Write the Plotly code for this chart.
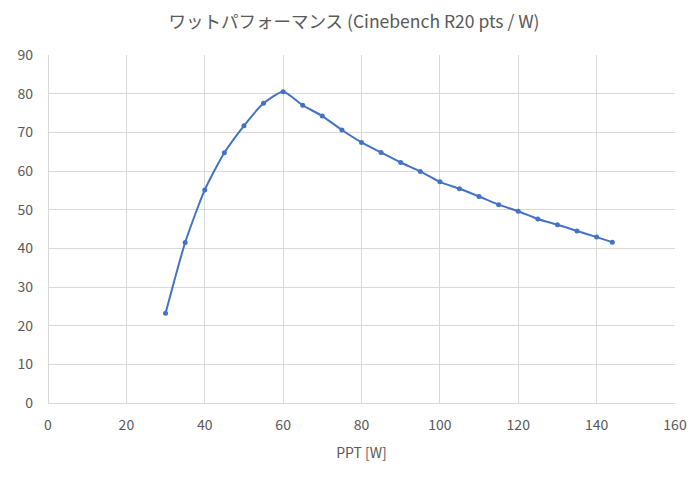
import plotly.graph_objects as go

ppt_w = [30, 35, 40, 45, 50, 55, 60, 65, 70, 75, 80, 85, 90, 95, 100, 105, 110, 115, 120, 125, 130, 135, 140, 144]
pts_per_w = [23.2, 41.5, 55.1, 64.7, 71.7, 77.5, 80.5, 77.0, 74.2, 70.6, 67.4, 64.8, 62.2, 59.9, 57.2, 55.4, 53.4, 51.3, 49.6, 47.6, 46.1, 44.5, 42.9, 41.6]

title_text = "ワットパフォーマンス (Cinebench R20 pts / W)"
x_title = "PPT [W]"
x_ticks = [0, 20, 40, 60, 80, 100, 120, 140, 160]
y_ticks = [0, 10, 20, 30, 40, 50, 60, 70, 80, 90]

# page body has an 8px margin, so the figure is sized to fill the rest of the window
W, H = 692, 469
ml, mr, mt, mb = 40, 25, 47, 74

font = "Noto Sans CJK JP, Noto Sans, sans-serif"
grid = "#d9d9d9"
txt = "#595959"

fig = go.Figure()
fig.add_trace(go.Scatter(
    x=ppt_w, y=pts_per_w, mode="lines+markers",
    line=dict(color="#4472C4", width=2, shape="spline", smoothing=0.6),
    marker=dict(color="#4472C4", size=5),
    showlegend=False, hoverinfo="x+y",
))

fig.update_layout(
    width=W, height=H,
    margin=dict(l=ml, r=mr, t=mt, b=mb, autoexpand=False),
    paper_bgcolor="white", plot_bgcolor="white",
    font=dict(family=font, color=txt, size=14),
    title=dict(text=title_text, x=0.5, xanchor="center", y=1 - 14 / H, yanchor="middle",
               font=dict(family=font, size=17.5, color=txt)),
    xaxis=dict(range=[0, 160], tickvals=x_ticks, showgrid=True, gridcolor=grid, gridwidth=1,
               zeroline=True, zerolinecolor=grid, zerolinewidth=1, showline=False,
               ticks="", tickfont=dict(size=14, color=txt), ticklabelstandoff=12,
               title=dict(text=x_title, font=dict(size=14, color=txt), standoff=15)),
    yaxis=dict(range=[0, 90], tickvals=y_ticks, showgrid=True, gridcolor=grid, gridwidth=1,
               zeroline=True, zerolinecolor=grid, zerolinewidth=1, showline=False,
               ticks="", tickfont=dict(size=14, color=txt), ticklabelstandoff=14),
)

fig.write_html("out.html")
